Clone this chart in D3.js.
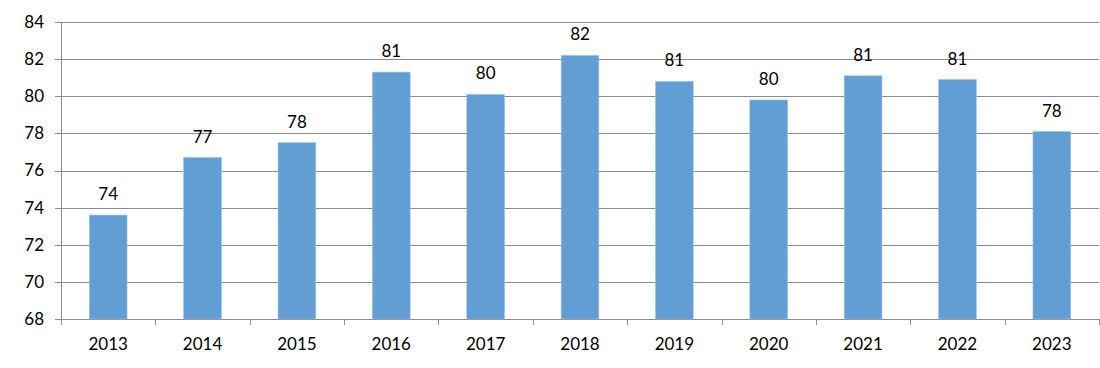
<!DOCTYPE html>
<html>
<head>
<meta charset="utf-8">
<script src="https://cdn.jsdelivr.net/npm/d3@7"></script>
<style>
  body { margin: 0; background: #fff; }
  text { font-family: Lato, "Noto Sans", sans-serif; fill: #000; }
</style>
</head>
<body>
<div id="chart"></div>
<script>
// data
const years = ["2013", "2014", "2015", "2016", "2017", "2018", "2019", "2020", "2021", "2022", "2023"];
const values = [73.6, 76.7, 77.5, 81.3, 80.1, 82.2, 80.8, 79.8, 81.1, 80.9, 78.1];
const yTicks = [68, 70, 72, 74, 76, 78, 80, 82, 84];

const width = 1100, height = 368;
const plotLeft = 61, plotRight = 1099, plotTop = 22, plotBottom = 319;

let svg = d3.select("#chart")
    .append("svg")
    .attr("width", width)
    .attr("height", height);

let x = d3.scaleBand()
    .domain(years)
    .range([plotLeft, plotRight])
    .paddingInner(0.6)
    .paddingOuter(0.3);

let y = d3.scaleLinear()
    .domain([68, 84])
    .range([plotBottom, plotTop]);

// gridlines
svg.append("g")
    .selectAll("line")
    .data(yTicks)
    .join("line")
    .attr("x1", plotLeft - 6)
    .attr("x2", plotRight)
    .attr("y1", d => Math.round(y(d)) + 0.5)
    .attr("y2", d => Math.round(y(d)) + 0.5)
    .attr("stroke", "#8c8c8c")
    .attr("stroke-width", 1);

// y labels
svg.append("g")
    .selectAll("text")
    .data(yTicks)
    .join("text")
    .attr("x", 44)
    .attr("y", d => y(d))
    .attr("dy", "0.35em")
    .attr("text-anchor", "end")
    .attr("font-size", 17)
    .text(d => d);

// bars
svg.append("g")
    .selectAll("rect")
    .data(values)
    .join("rect")
    .attr("x", (d, i) => x(years[i]))
    .attr("y", d => y(d))
    .attr("width", x.bandwidth())
    .attr("height", d => plotBottom - y(d))
    .attr("fill", "#619ed3")
    .attr("stroke", "#9cc3e6")
    .attr("stroke-width", 0.6);

// value labels
svg.append("g")
    .selectAll("text")
    .data(values)
    .join("text")
    .attr("x", (d, i) => x(years[i]) + x.bandwidth() / 2)
    .attr("y", d => y(d) - 15)
    .attr("text-anchor", "middle")
    .attr("font-size", 17)
    .text(d => Math.round(d));

// y axis line
svg.append("line")
    .attr("x1", plotLeft + 0.5).attr("x2", plotLeft + 0.5)
    .attr("y1", plotTop).attr("y2", plotBottom)
    .attr("stroke", "#8c8c8c");

// x axis tick marks between categories
let xt = d3.range(years.length + 1).map(i => plotLeft + i * (plotRight - plotLeft) / years.length);
svg.append("g")
    .selectAll("line")
    .data(xt)
    .join("line")
    .attr("x1", d => Math.round(d) + 0.5)
    .attr("x2", d => Math.round(d) + 0.5)
    .attr("y1", plotBottom)
    .attr("y2", plotBottom + 6)
    .attr("stroke", "#8c8c8c");

svg.append("g")
    .selectAll("text")
    .data(years)
    .join("text")
    .attr("x", d => x(d) + x.bandwidth() / 2)
    .attr("y", 350)
    .attr("text-anchor", "middle")
    .attr("font-size", 17)
    .text(d => d);
</script>
</body>
</html>
